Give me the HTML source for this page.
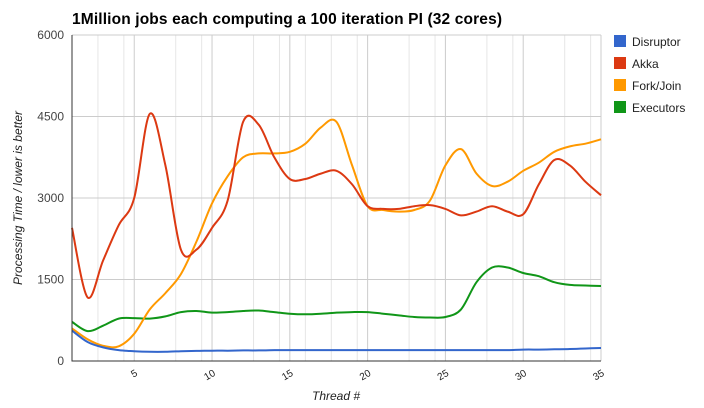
<!DOCTYPE html>
<html><head><meta charset="utf-8"><style>
body{margin:0;background:#fff;}
svg{display:block;font-family:"Liberation Sans",Arial,sans-serif;}
</style></head><body>
<svg id="chart" width="704" height="408">
<text x="72" y="24" font-size="15.5" font-weight="bold" fill="#000" textLength="430">1Million jobs each computing a 100 iteration PI (32 cores)</text>
<g id="grid"></g><g id="series"></g><g id="axes"></g><g id="legend"></g>
<text transform="translate(22,198) rotate(-90)" text-anchor="middle" font-size="12" font-style="italic" fill="#222">Processing Time / lower is better</text>
<text x="336" y="400" text-anchor="middle" font-size="12" font-style="italic" fill="#222">Thread #</text>
</svg>
<script>
const threads=[];for(let i=1;i<=35;i++)threads.push(i);
const yTicks=[0,1500,3000,4500,6000];
const xTicks=[5,10,15,20,25,30,35];
const seriesNames=["Disruptor","Akka","Fork/Join","Executors"];
const seriesColors=["#3366cc","#dc3912","#ff9900","#109618"];
const disruptor=[560,350,250,200,180,170,170,180,185,190,190,195,195,200,200,200,200,200,200,200,200,200,200,200,200,200,200,200,200,210,210,215,220,230,240];
const akka=[2450,1170,1850,2500,3000,4550,3600,2050,2050,2450,2950,4400,4350,3750,3350,3350,3450,3500,3250,2850,2800,2800,2850,2870,2800,2680,2750,2850,2750,2700,3250,3700,3600,3300,3050];
const forkjoin=[600,400,280,270,500,950,1250,1600,2200,2900,3400,3750,3820,3820,3850,4000,4300,4400,3600,2850,2780,2750,2780,2950,3600,3900,3450,3220,3300,3500,3650,3850,3950,4000,4080];
const executors=[720,550,650,780,790,780,820,900,920,890,900,920,930,900,870,860,870,890,900,900,870,840,810,800,810,950,1450,1720,1720,1620,1560,1450,1400,1390,1380];
const allSeries=[disruptor,akka,forkjoin,executors];
const L=72,R=601,T=35,B=361;
const xs=t=>L+(t-1)*(R-L)/34;
const ys=v=>B-v*(B-T)/6000;
const NS="http://www.w3.org/2000/svg";
function mk(tag,attrs,parent){const e=document.createElementNS(NS,tag);for(const k in attrs)e.setAttribute(k,attrs[k]);parent.appendChild(e);return e;}
const grid=document.getElementById('grid'),axes=document.getElementById('axes'),ser=document.getElementById('series'),leg=document.getElementById('legend');
for(let t=1;t<=35;t+=5/3){const x=xs(t);if(Math.abs((t-1)%5)<0.01)continue;
const l=mk('line',{x1:x,x2:x,y1:T,y2:B,stroke:'#e6e6e6'},grid);

}
xTicks.forEach(t=>{const x=xs(t);
const l=mk('line',{x1:x,x2:x,y1:T,y2:B,stroke:'#cccccc'},grid);


const tx=mk('text',{x:0,y:0,'font-size':10,fill:'#222','text-anchor':'end',transform:`translate(${x+4},${B+14}) rotate(-30)`},axes);
tx.textContent=t;

});
yTicks.forEach(v=>{const y=ys(v);
const l=mk('line',{x1:L,x2:R,y1:y,y2:y,stroke:'#cccccc'},grid);


const tx=mk('text',{x:L-8,y:y+4,'font-size':12,fill:'#444','text-anchor':'end'},axes);
tx.textContent=v;

});
const ax=mk('path',{d:`M${L},${T}V${B}H${R}`,stroke:'#333',fill:'none'},axes);


function smooth(pts){let d=`M${pts[0][0]},${pts[0][1]}`;
for(let i=0;i<pts.length-1;i++){const p0=pts[Math.max(0,i-1)],p1=pts[i],p2=pts[i+1],p3=pts[Math.min(pts.length-1,i+2)];
const c1=[p1[0]+(p2[0]-p0[0])/6,p1[1]+(p2[1]-p0[1])/6],c2=[p2[0]-(p3[0]-p1[0])/6,p2[1]-(p3[1]-p1[1])/6];
d+=`C${c1[0].toFixed(1)},${c1[1].toFixed(1)} ${c2[0].toFixed(1)},${c2[1].toFixed(1)} ${p2[0].toFixed(1)},${p2[1].toFixed(1)}`;}
return d;}
[3,2,1,0].forEach(si=>{const pts=allSeries[si].map((v,i)=>[xs(threads[i]),ys(v)]);
const p=mk('path',{d:smooth(pts),stroke:seriesColors[si],'stroke-width':2,fill:'none'},ser);

});
seriesNames.forEach((n,i)=>{const y=35+i*22;
const g=mk('g',{},leg);


mk('rect',{x:614,y:y,width:12,height:12,fill:seriesColors[i]},g);
const t=mk('text',{x:632,y:y+11,'font-size':12,fill:'#222'},g);t.textContent=n;});
</script>
</body></html>
